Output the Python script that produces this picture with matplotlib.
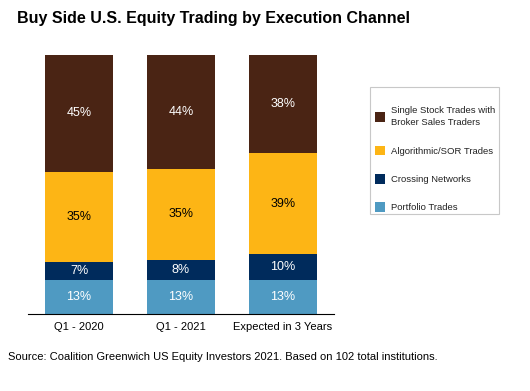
import matplotlib
matplotlib.use("Agg")
import matplotlib.pyplot as plt
from matplotlib.patches import Patch, Rectangle

plt.rcParams['font.family'] = ['Liberation Sans', 'DejaVu Sans']

categories = ["Q1 - 2020", "Q1 - 2021", "Expected in 3 Years"]
portfolio = [13, 13, 13]
crossing = [7, 8, 10]
algo = [35, 35, 39]
single = [45, 44, 38]

series_names = ["Portfolio Trades", "Crossing Networks", "Algorithmic/SOR Trades",
                "Single Stock Trades with\nBroker Sales Traders"]
series = [portfolio, crossing, algo, single]
colors = ["#4f9ac2", "#002b5c", "#fdb515", "#4a2414"]
text_colors = ["white", "white", "black", "white"]

W, H = 530, 391
fig = plt.figure(figsize=(W / 100, H / 100), dpi=100)
ax = fig.add_axes([28 / W, 77 / H, 306 / W, 259 / H])

x = range(len(categories))
bottoms = [0] * len(categories)
for vals, col, tc in zip(series, colors, text_colors):
    ax.bar(x, vals, bottom=bottoms, width=0.67, color=col, edgecolor="none")
    for i, v in enumerate(vals):
        ax.text(i, bottoms[i] + v / 2, f"{v}%", ha="center", va="center",
                color=tc, fontsize=9)
    bottoms = [b + v for b, v in zip(bottoms, vals)]

ax.set_xlim(-0.5, 2.5)
ax.set_ylim(0, 100)
for s in ["top", "right", "left"]:
    ax.spines[s].set_visible(False)
ax.spines["bottom"].set_color("black")
ax.spines["bottom"].set_linewidth(0.8)
ax.set_yticks([])
ax.set_xticks([-0.5, 0.5, 1.5, 2.5], minor=False)
ax.set_xticklabels([])
ax.tick_params(axis="x", direction="in", length=-6, width=0.8)
ax.set_xticks(list(x), minor=True)
ax.set_xticklabels(categories, minor=True, fontsize=8)
ax.tick_params(axis="x", which="minor", length=0, pad=6)

# legend box drawn separately so padding can differ by direction
fig.add_artist(Rectangle((370 / W, 1 - 214 / H), 129 / W, 127 / H,
                         transform=fig.transFigure, facecolor="white",
                         edgecolor="#c8c8c8", linewidth=0.8))
handles = [Patch(facecolor=c, edgecolor="none") for c in colors][::-1]
labels = series_names[::-1]
leg = fig.legend(handles, labels, loc="upper left",
                 bbox_to_anchor=(375 / W, 1 - 106 / H),
                 fontsize=6.8, frameon=False, labelcolor="#222222",
                 handlelength=1.05, handleheight=1.2, labelspacing=1.95,
                 borderpad=0, handletextpad=0.65, borderaxespad=0)
leg.get_texts()[0].set_linespacing(1.45)

fig.text(17 / W, 1 - 18 / H, "Buy Side U.S. Equity Trading by Execution Channel",
         fontsize=11.5, fontweight="bold", va="center", ha="left")
fig.text(8 / W, 1 - 357 / H,
         "Source: Coalition Greenwich US Equity Investors 2021. Based on 102 total institutions.",
         fontsize=8, va="center", ha="left")

fig.savefig("out.png", dpi=100)
